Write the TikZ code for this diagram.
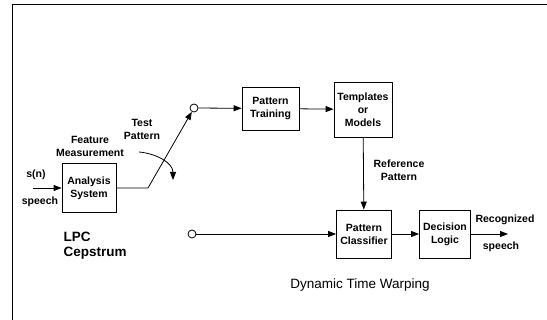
\documentclass[tikz,border=0pt]{standalone}
\usepackage{fontspec}
\setmainfont{Liberation Sans}
\usetikzlibrary{arrows.meta}
\begin{document}
\begin{tikzpicture}[x=1pt, y=-1pt,
  box/.style={draw, line width=0.8pt, align=center, font=\fontsize{10.5}{13}\selectfont\bfseries, inner sep=0pt},
  label/.style={align=center, font=\fontsize{10.5}{13}\selectfont\bfseries},
  big/.style={align=left, font=\fontsize{13.5}{15}\selectfont},
  tap/.style={draw, circle, line width=0.8pt, minimum size=8pt, inner sep=0pt},
  arrow/.style={-{Triangle[length=8pt,width=6pt]}, line width=0.8pt}
]
\useasboundingbox (0,0) rectangle (547,320);
\draw[line width=1pt] (547,5) -- (12,5) -- (12,320);
\node[box, minimum width=54pt, minimum height=49pt] (analysis) at (89,188) {Analysis\\System};
\node[box, minimum width=57pt, minimum height=43pt] (training) at (270.5,108.5) {Pattern\\Training};
\node[box, minimum width=58pt, minimum height=55pt] (templates) at (363,109.5) {Templates\\or\\Models};
\node[box, minimum width=55pt, minimum height=48pt] (classifier) at (364,234) {Pattern\\Classifier};
\node[box, minimum width=51pt, minimum height=48pt] (decision) at (445,234) {Decision\\Logic};
\node[tap] (upper) at (194,108) {};
\node[tap] (lower) at (192,234) {};
\node[label] (sn) at (36,175) {s(n)};
\node[label] (speechin) at (40,202) {speech};
\node[label] (feature) at (90,146) {Feature\\Measurement};
\node[label] (test) at (142,129) {Test\\Pattern};
\node[label] (reference) at (399,170) {Reference\\Pattern};
\node[label] (recognized) at (505,220) {Recognized};
\node[label] (speechout) at (501,247) {speech};
\node[big, font=\fontsize{13.5}{15}\selectfont\bfseries, anchor=west] (lpc) at (60,246) {LPC\\Cepstrum};
\node[big] (dtw) at (360,285) {Dynamic Time Warping};
\coordinate (in) at (33,188);
\coordinate (kink) at (148,188);
\coordinate (out) at (508,234);
\coordinate (swingA) at (139,152);
\coordinate (swingB) at (173,180);
\draw[arrow] (in) -- (analysis);
\draw[arrow] (analysis) -- (kink) -- (upper);
\draw[arrow] (swingA) to[out=-5, in=90] (swingB);
\draw[arrow] (upper) -- (training);
\draw[arrow] (training) -- (templates);
\draw[arrow] (templates) -- (classifier);
\draw[arrow] (lower) -- (classifier);
\draw[arrow] (classifier) -- (decision);
\draw[arrow] (decision) -- (out);
\end{tikzpicture}
\end{document}
